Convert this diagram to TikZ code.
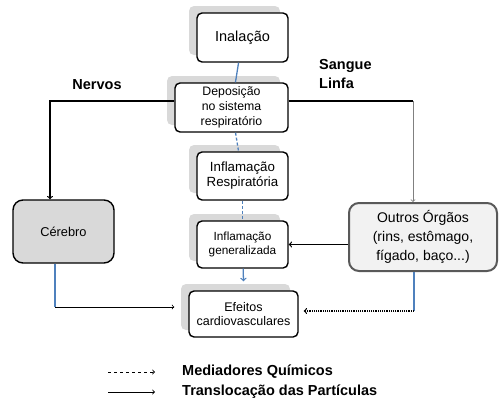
\documentclass[tikz,border=0pt]{standalone}
\usepackage{fontspec}
\setmainfont{Liberation Sans}
\usepackage{xcolor}
\usepackage{tikz}
\usetikzlibrary{calc,shadows}
\definecolor{azul}{HTML}{4F81BD}
\definecolor{sombra}{HTML}{D9D9D9}

\begin{document}
\begin{tikzpicture}[x=1pt, y=-1pt,
    caixa/.style={draw, line width=1.4pt, rounded corners=5pt, fill=white, align=center,
      inner sep=0pt, general shadow={fill=sombra, shadow xshift=-8pt, shadow yshift=7pt}},
    orgao/.style={draw, line width=1.4pt, rounded corners=10pt, align=center, inner sep=0pt},
    liga/.style={line width=1.2pt},
    azulm/.style={azul, line width=1.3pt, dash pattern=on 3pt off 2pt},
    rotulo/.style={font=\bfseries\fontsize{14.5}{17}\selectfont, inner sep=0pt}]
  \useasboundingbox (0,0) rectangle (500,410);
  % caixas centrais
  \node[caixa, minimum width=91pt, minimum height=49pt, font=\fontsize{14.5}{16}\selectfont] (inal) at (242.5,37.5) {Inalação};
  \node[caixa, minimum width=113pt, minimum height=49pt, font=\fontsize{12.3}{15}\selectfont] (depo) at (231.5,107.5) {Deposição\\no sistema\\respiratório};
  \node[caixa, minimum width=91pt, minimum height=48pt, font=\fontsize{13.3}{15}\selectfont] (resp) at (242.5,176) {Inflamação\\Respiratória};
  \node[caixa, minimum width=91pt, minimum height=47pt, font=\fontsize{11.8}{14}\selectfont] (gene) at (242.5,244.5) {Inflamação\\generalizada};
  \node[caixa, minimum width=109pt, minimum height=46pt, font=\fontsize{12.5}{13.5}\selectfont] (efei) at (243.5,314) {Efeitos\\cardiovasculares};
  % orgaos
  \node[orgao, fill=sombra, minimum width=101pt, minimum height=63pt, font=\fontsize{12.8}{14}\selectfont] (cere) at (63.5,231.5) {Cérebro};
  \node[orgao, draw=black!65, line width=2pt, fill=black!5, minimum width=148pt, minimum height=68pt, font=\fontsize{14}{19}\selectfont] (outr) at (423,237) {Outros Órgãos\\(rins, estômago,\\fígado, baço...)};
  % ligacoes
  \draw[azul, line width=1.3pt] (inal) -- (depo);
  \draw[azulm] (depo) -- (resp);
  \draw[azulm] (resp) -- (gene);
  \draw[azul, line width=1.3pt, ->] (gene) -- ($(efei.north)+(0,-9)$);
  \draw[liga, ->] ([yshift=6.5pt]depo.west) -| ([xshift=-13.5pt]cere.north);
  \node[rotulo] (nerv) at (97,85) {Nervos};
  \coordinate (sang) at (413,101);
  \draw[liga] ([yshift=6.5pt]depo.east) -- (sang);
  \draw[gray, line width=0.8pt, ->] (sang) -- (sang |- outr.north);
  \node[rotulo, anchor=west, align=left, font=\bfseries\fontsize{14.5}{19}\selectfont] (linf) at (319,74) {Sangue\\Linfa};
  \draw[liga, ->] (outr.west |- gene.east) -- (gene.east);
  \coordinate (cerb) at (55,307);
  \draw[azul, line width=1.3pt] (cerb |- cere.south) -- (cerb);
  \draw[line width=0.8pt, ->, shorten >=14pt] (cerb) -- (cerb -| efei.west);
  \coordinate (outb) at (414,311);
  \draw[azul, line width=1.6pt] (outb |- outr.south) -- (outb);
  \draw[liga, densely dotted, ->, shorten >=5pt] (outb) -- (outb -| efei.east);
  % legenda
  \coordinate (lega) at (108,372);
  \coordinate (legb) at (108,392);
  \node[rotulo, anchor=west] (medi) at (182,372) {Mediadores Químicos};
  \node[rotulo, anchor=west] (tran) at (182,392) {Translocação das Partículas};
  \draw[line width=0.9pt, dashed, ->] (lega) -- ++(47,0);
  \draw[line width=0.9pt, ->] (legb) -- ++(47,0);
\end{tikzpicture}
\end{document}
